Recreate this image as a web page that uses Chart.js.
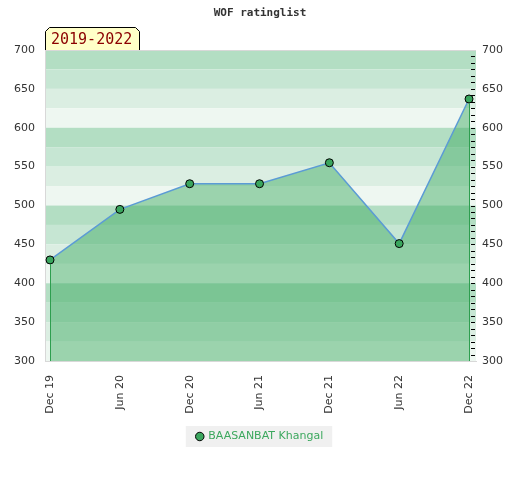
<!DOCTYPE html>
<html>
<head>
<meta charset="utf-8">
<script src="https://cdn.jsdelivr.net/npm/chart.js@4/dist/chart.umd.min.js"></script>
<style>
  html, body { margin: 0; padding: 0; background: #fff; }
  #wrap { width: 520px; height: 480px; }
</style>
</head>
<body>
<div id="wrap"><canvas id="ratingChart" width="520" height="480"></canvas></div>
<script>
const chartTitle = 'WOF ratinglist';
const periodLabel = '2019-2022';
const playerName = 'BAASANBAT Khangal';
const periods = ['Dec 19', 'Jun 20', 'Dec 20', 'Jun 21', 'Dec 21', 'Jun 22', 'Dec 22'];
const ratings = [430, 495, 528, 528, 555, 451, 637];
const yMin = 300;
const yMax = 700;
const yStep = 50;

const bandColors = ['#b3dec3', '#c6e6d3', '#dbeee2', '#eef7f1'];

// background stripes, title, badge and legend box
const decorPlugin = {
    id: 'decor',
    beforeDraw(chart) {
        const { ctx, chartArea: a } = chart;
        const y = chart.scales.y;
        ctx.save();
        ctx.fillStyle = '#fff';
        ctx.fillRect(0, 0, chart.width, chart.height);
        let i = 0;
        for (let v = yMax; v > yMin; v -= 25, i++) {
            const top = y.getPixelForValue(v);
            const bot = y.getPixelForValue(v - 25);
            ctx.fillStyle = bandColors[i % 4];
            ctx.fillRect(a.left, top, a.right - a.left, bot - top);
        }
        // top border
        ctx.strokeStyle = '#d8d8d8';
        ctx.lineWidth = 1;
        ctx.beginPath();
        ctx.moveTo(a.left, a.top + 0.5);
        ctx.lineTo(a.right, a.top + 0.5);
        ctx.stroke();

        // title
        ctx.fillStyle = '#333';
        ctx.font = 'bold 11px "DejaVu Sans Mono", monospace';
        ctx.textAlign = 'center';
        ctx.textBaseline = 'middle';
        ctx.fillText(chartTitle, chart.width / 2, 13);

        // period badge
        const bx = a.left, by = a.top - 23, bw = 95;
        ctx.beginPath();
        ctx.moveTo(bx + 0.5, a.top);
        ctx.lineTo(bx + 0.5, by + 4.5);
        ctx.lineTo(bx + 4.5, by + 0.5);
        ctx.lineTo(bx + bw - 4.5, by + 0.5);
        ctx.lineTo(bx + bw - 0.5, by + 4.5);
        ctx.lineTo(bx + bw - 0.5, a.top);
        ctx.fillStyle = '#ffffc8';
        ctx.fill();
        ctx.strokeStyle = '#000';
        ctx.stroke();
        ctx.fillStyle = '#8b0000';
        ctx.font = '15px "DejaVu Sans Mono", monospace';
        ctx.textAlign = 'left';
        ctx.fillText(periodLabel, bx + 6, by + 13);

        // legend background
        const hb = chart.legend.legendHitBoxes[0];
        if (hb) {
            ctx.fillStyle = '#f0f0f0';
            ctx.fillRect(hb.left - 11, hb.top - 5, hb.width + 20, hb.height + 10);
        }
        ctx.restore();
    },
    afterDatasetsDraw(chart) {
        const { ctx, chartArea: a } = chart;
        const y = chart.scales.y;
        const pts = chart.getDatasetMeta(0).data;
        ctx.save();
        // green edges of the filled area
        ctx.strokeStyle = '#2e9e4f';
        ctx.lineWidth = 1;
        [pts[0], pts[pts.length - 1]].forEach(p => {
            ctx.beginPath();
            ctx.moveTo(Math.round(p.x) + 0.5, p.y + 4);
            ctx.lineTo(Math.round(p.x) + 0.5, a.bottom);
            ctx.stroke();
        });
        // small ticks on the right edge
        ctx.strokeStyle = '#000';
        const minor = yStep / 6;
        for (let v = yMin + minor; v < yMax - 0.01; v += minor) {
            const py = Math.round(y.getPixelForValue(v)) + 0.5;
            ctx.beginPath();
            ctx.moveTo(a.right - 5, py);
            ctx.lineTo(a.right - 1, py);
            ctx.stroke();
        }
        ctx.restore();
    }
};

const tickFont = { family: '"DejaVu Sans", sans-serif', size: 11 };

new Chart(document.getElementById('ratingChart'), {
    type: 'line',
    data: {
        datasets: [{
            label: playerName,
            data: ratings.map((r, i) => ({ x: i, y: r })),
            borderColor: '#5b9bd5',
            borderWidth: 1.5,
            backgroundColor: 'rgba(57,168,93,0.46)',
            fill: 'start',
            tension: 0,
            pointRadius: 4,
            pointHoverRadius: 4,
            pointBackgroundColor: '#3aa65e',
            pointBorderColor: '#000',
            pointBorderWidth: 1
        }]
    },
    options: {
        responsive: false,
        animation: false,
        events: [],
        layout: { padding: { top: 50, bottom: 28, left: 0, right: 0 } },
        plugins: {
            title: { display: false },
            tooltip: { enabled: false },
            legend: {
                position: 'bottom',
                labels: {
                    usePointStyle: true,
                    pointStyle: 'circle',
                    boxWidth: 6,
                    boxHeight: 6,
                    color: '#3ca85e',
                    font: tickFont,
                    padding: 10
                }
            }
        },
        scales: {
            x: {
                type: 'linear',
                min: -0.072,
                max: 6.1,
                afterBuildTicks: s => { s.ticks = periods.map((p, i) => ({ value: i })); },
                afterFit: s => { s.height = 60; },
                grid: { display: false },
                border: { color: '#d8d8d8' },
                ticks: {
                    autoSkip: false,
                    minRotation: 90,
                    maxRotation: 90,
                    color: '#333',
                    font: tickFont,
                    padding: 6,
                    callback: v => periods[v] ?? ''
                }
            },
            y: {
                position: 'left',
                min: yMin,
                max: yMax,
                afterFit: s => { s.width = 45; },
                grid: { display: false },
                border: { color: '#d8d8d8' },
                ticks: { stepSize: yStep, color: '#333', font: tickFont, padding: 2 }
            },
            y2: {
                position: 'right',
                min: yMin,
                max: yMax,
                afterFit: s => { s.width = 44; },
                grid: { display: false },
                border: { display: false },
                ticks: { stepSize: yStep, color: '#333', font: tickFont, padding: -2 }
            }
        }
    },
    plugins: [decorPlugin]
});
</script>
</body>
</html>
